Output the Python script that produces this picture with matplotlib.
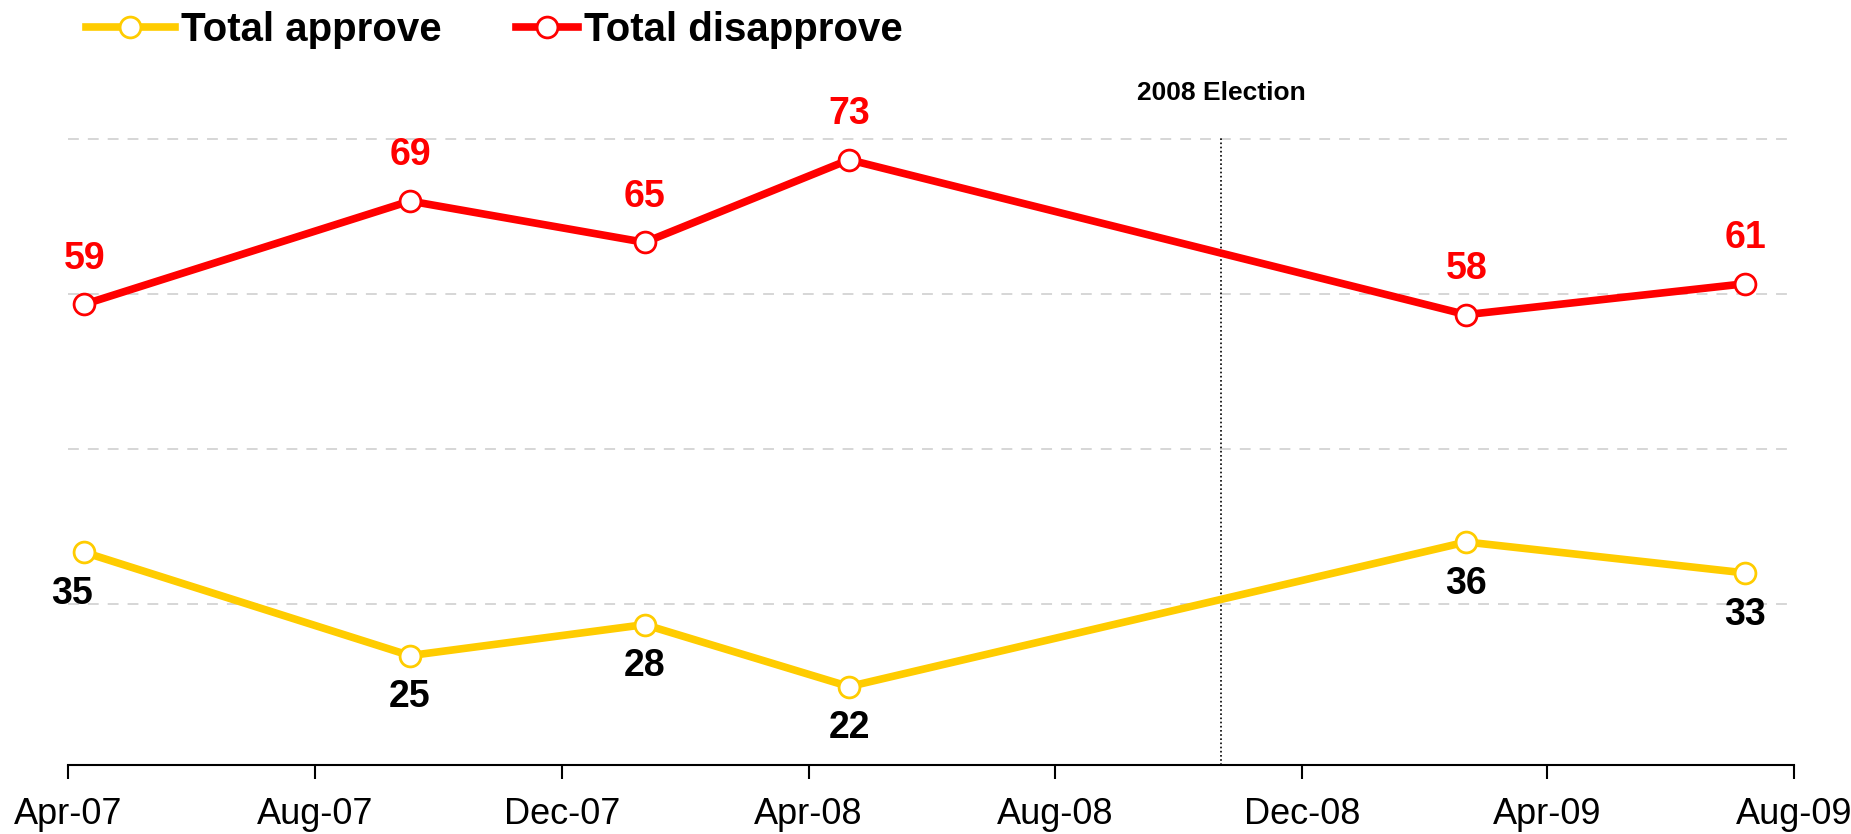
import matplotlib
matplotlib.use('Agg')
import matplotlib.pyplot as plt
from datetime import datetime

plt.rcParams['font.family'] = ['Liberation Sans', 'DejaVu Sans']

# survey dates
dates = [datetime(2007, 4, 9), datetime(2007, 9, 17), datetime(2008, 1, 11),
         datetime(2008, 4, 21), datetime(2009, 2, 20), datetime(2009, 7, 8)]
approve = [35, 25, 28, 22, 36, 33]
disapprove = [59, 69, 65, 73, 58, 61]

tick_dates = [datetime(2007, 4, 1), datetime(2007, 8, 1), datetime(2007, 12, 1),
              datetime(2008, 4, 1), datetime(2008, 8, 1), datetime(2008, 12, 1),
              datetime(2009, 4, 1), datetime(2009, 8, 1)]
tick_labels = ['Apr-07', 'Aug-07', 'Dec-07', 'Apr-08', 'Aug-08', 'Dec-08', 'Apr-09', 'Aug-09']
grid_values = [30, 45, 60, 75]
election_date = datetime(2008, 10, 22)

yellow = '#FFCC00'
red = '#FF0000'

fig = plt.figure(figsize=(18.51, 8.34), dpi=100)
ax = fig.add_axes([68 / 1851, 69 / 834, (1794 - 68) / 1851, (765 - 100) / 834])

ax.set_xlim(tick_dates[0], tick_dates[-1])
ax.set_ylim(14.41, 78.78)

for g in grid_values:
    ax.axhline(g, color='#d3d3d3', lw=1.3, ls=(0, (6, 5)), zorder=1)

ax.vlines(election_date, 14.41, 75.3, color='black', lw=1.2, ls=(0, (1, 1.5)), zorder=2)
ax.text(election_date, 79.5, '2008 Election', ha='center', va='center',
        fontsize=19, fontweight='bold')

l1, = ax.plot(dates, approve, color=yellow, lw=5.5, marker='o', ms=15, mfc='white',
              mec=yellow, mew=2, label='Total approve', zorder=4)
l2, = ax.plot(dates, disapprove, color=red, lw=5.5, marker='o', ms=15, mfc='white',
              mec=red, mew=2, label='Total disapprove', zorder=4)

for i, (d, v) in enumerate(zip(dates, approve)):
    dx = -9 if i == 0 else 0
    ax.annotate(str(v), (d, v), xytext=(dx, -30), textcoords='offset points',
                ha='center', va='center', fontsize=27, fontweight='bold', color='black')
for d, v in zip(dates, disapprove):
    ax.annotate(str(v), (d, v), xytext=(0, 33), textcoords='offset points',
                ha='center', va='center', fontsize=27, fontweight='bold', color=red)

ax.set_xticks(tick_dates)
ax.set_xticklabels(tick_labels, fontsize=26)
ax.tick_params(axis='x', direction='out', length=10, width=1.5, pad=13)
ax.set_yticks([])
for s in ['top', 'right', 'left']:
    ax.spines[s].set_visible(False)
ax.spines['bottom'].set_linewidth(1.5)

# two legends so the handles can differ in length like the original
fig.legend(handles=[l1], loc='center left', bbox_to_anchor=(86 / 1851, 1 - 30 / 834),
           frameon=False, prop={'weight': 'bold', 'size': 29},
           handlelength=2.2, handletextpad=0.15, borderpad=0, borderaxespad=0)
fig.legend(handles=[l2], loc='center left', bbox_to_anchor=(516 / 1851, 1 - 30 / 834),
           frameon=False, prop={'weight': 'bold', 'size': 29},
           handlelength=1.55, handletextpad=0.15, borderpad=0, borderaxespad=0)

fig.savefig('out.png', dpi=100)
